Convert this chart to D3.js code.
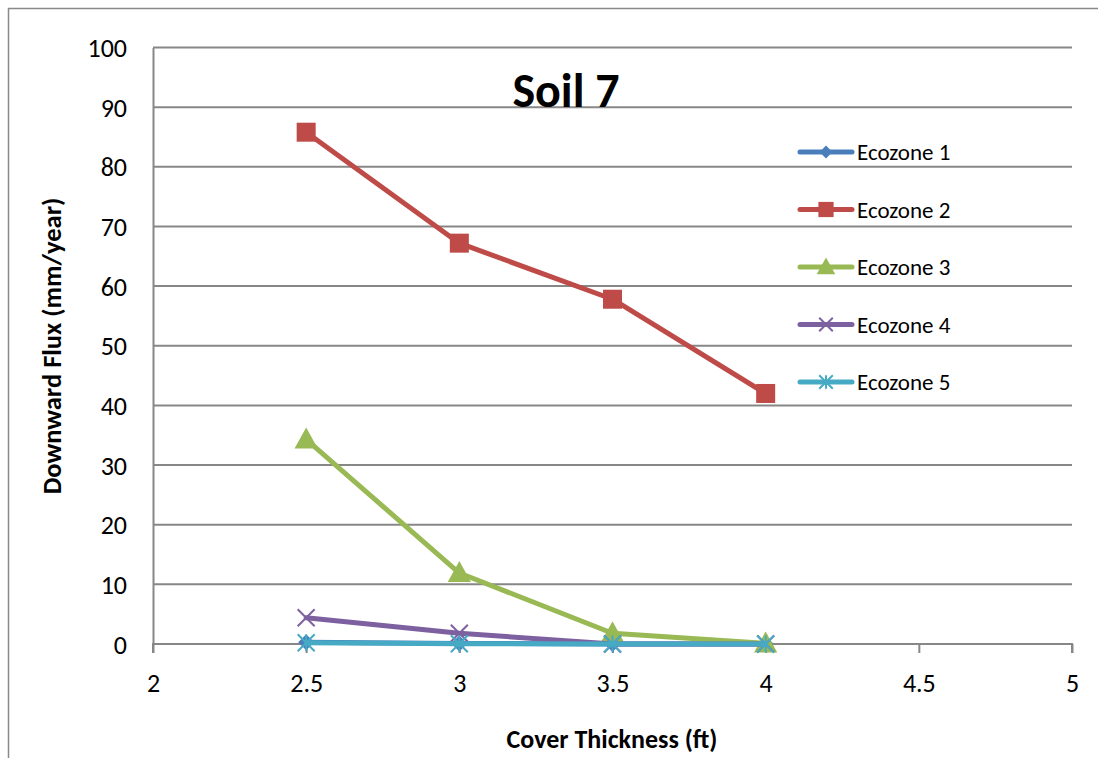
<!DOCTYPE html>
<html><head><meta charset="utf-8">
<script src="https://cdn.jsdelivr.net/npm/d3@7"></script>
<style>body{margin:0;background:#fff;} text{font-family:Carlito,Lato,"Open Sans",sans-serif;}</style>
</head><body>
<svg id="c" width="1098" height="758"></svg>
<script>
const xValues = [2.5, 3, 3.5, 4];
const seriesNames = ["Ecozone 1","Ecozone 2","Ecozone 3","Ecozone 4","Ecozone 5"];
const eco1 = [0.3, 0.1, 0, 0];
const eco2 = [85.8, 67.2, 57.8, 42.0];
const eco3 = [34.3, 11.9, 1.8, 0.1];
const eco4 = [4.4, 1.8, 0, 0];
const eco5 = [0.2, 0.05, 0, 0];
const xTicks = [2, 2.5, 3, 3.5, 4, 4.5, 5];
const yTicks = [0,10,20,30,40,50,60,70,80,90,100];
const colors = ["#4A7EBB","#BE4B48","#98B954","#7D60A0","#46AAC5"];
const markers = ["diamond","square","triangle","x","star"];
const allSeries = [eco1,eco2,eco3,eco4,eco5];

const svg = d3.select("#c");
const L=153, R=1072, T=47.5, B=644;
const x = d3.scaleLinear().domain([2,5]).range([L,R]);
const y = d3.scaleLinear().domain([0,100]).range([B,T]);

svg.append("rect").attr("x",8.5).attr("y",8.5).attr("width",1100).attr("height",760)
  .attr("fill","none").attr("stroke","#898989").attr("stroke-width",1.5);

// gridlines
svg.append("g").selectAll("line").data(yTicks).join("line")
  .attr("x1",L).attr("x2",R).attr("y1",d=>y(d)).attr("y2",d=>y(d))
  .attr("stroke","#878787").attr("stroke-width",2);

// y axis
const ya = svg.append("g").attr("transform",`translate(${L},0)`)
  .call(d3.axisLeft(y).tickValues(yTicks).tickSize(0).tickPadding(26));
ya.select(".domain").attr("stroke","#878787").attr("stroke-width",2);
ya.selectAll("text").attr("font-size",26).attr("fill","#000").attr("dy","0.35em");

// x axis
const xa = svg.append("g").attr("transform",`translate(0,${B})`)
  .call(d3.axisBottom(x).tickValues(xTicks).tickSize(9).tickPadding(21).tickFormat(d3.format("")));
xa.select(".domain").attr("stroke","#878787").attr("stroke-width",2).attr("d",`M${L},9V0H${R}V9`);
xa.selectAll("line").attr("stroke","#878787").attr("stroke-width",2);
xa.selectAll("text").attr("font-size",26).attr("fill","#000");

// titles
svg.append("text").attr("x",566).attr("y",107).attr("text-anchor","middle")
  .attr("font-size",48).attr("font-weight","bold").text("Soil 7");
svg.append("text").attr("x",612).attr("y",748).attr("text-anchor","middle")
  .attr("font-size",26).attr("font-weight","bold").text("Cover Thickness (ft)");
svg.append("text").attr("transform","translate(61,346) rotate(-90)").attr("text-anchor","middle")
  .attr("font-size",26.5).attr("font-weight","bold").text("Downward Flux (mm/year)");

function drawMarker(g, type, color, cx, cy, s){
  if(type==="diamond"){
    g.append("path").attr("d",`M${cx},${cy-s/2}L${cx+s/2},${cy}L${cx},${cy+s/2}L${cx-s/2},${cy}Z`).attr("fill",color);
  } else if(type==="square"){
    g.append("rect").attr("x",cx-s/2).attr("y",cy-s/2).attr("width",s).attr("height",s).attr("fill",color);
  } else if(type==="triangle"){
    g.append("path").attr("d",`M${cx},${cy-s*0.6}L${cx+s*0.58},${cy+s*0.45}L${cx-s*0.58},${cy+s*0.45}Z`).attr("fill",color);
  } else if(type==="x"){
    const h=s/2;
    g.append("path").attr("d",`M${cx-h},${cy-h}L${cx+h},${cy+h}M${cx-h},${cy+h}L${cx+h},${cy-h}`).attr("stroke",color).attr("stroke-width",2);
  } else if(type==="star"){
    const h=s/2;
    g.append("path").attr("d",`M${cx-h},${cy-h}L${cx+h},${cy+h}M${cx-h},${cy+h}L${cx+h},${cy-h}M${cx},${cy-h}L${cx},${cy+h}`).attr("stroke",color).attr("stroke-width",2);
  }
}
const sizes = [16,19,20,17,17];

const line = d3.line().x((d,i)=>x(xValues[i])).y(d=>y(d));
allSeries.forEach((s,k)=>{
  const g = svg.append("g");
  g.append("path").datum(s).attr("d",line).attr("fill","none").attr("stroke",colors[k])
    .attr("stroke-width",5).attr("stroke-linejoin","round").attr("stroke-linecap","round");
  s.forEach((v,i)=>drawMarker(g, markers[k], colors[k], x(xValues[i]), y(v), sizes[k]));
});

// legend
const legY = [152, 209.5, 267, 324.5, 382];
seriesNames.forEach((n,k)=>{
  const g = svg.append("g");
  g.append("line").attr("x1",800).attr("x2",852).attr("y1",legY[k]).attr("y2",legY[k])
    .attr("stroke",colors[k]).attr("stroke-width",5).attr("stroke-linecap","round");
  drawMarker(g, markers[k], colors[k], 826, legY[k], sizes[k]*0.8);
  g.append("text").attr("x",857).attr("y",legY[k]).attr("dy","0.35em").attr("font-size",23).text(n);
});
</script>
</body></html>
